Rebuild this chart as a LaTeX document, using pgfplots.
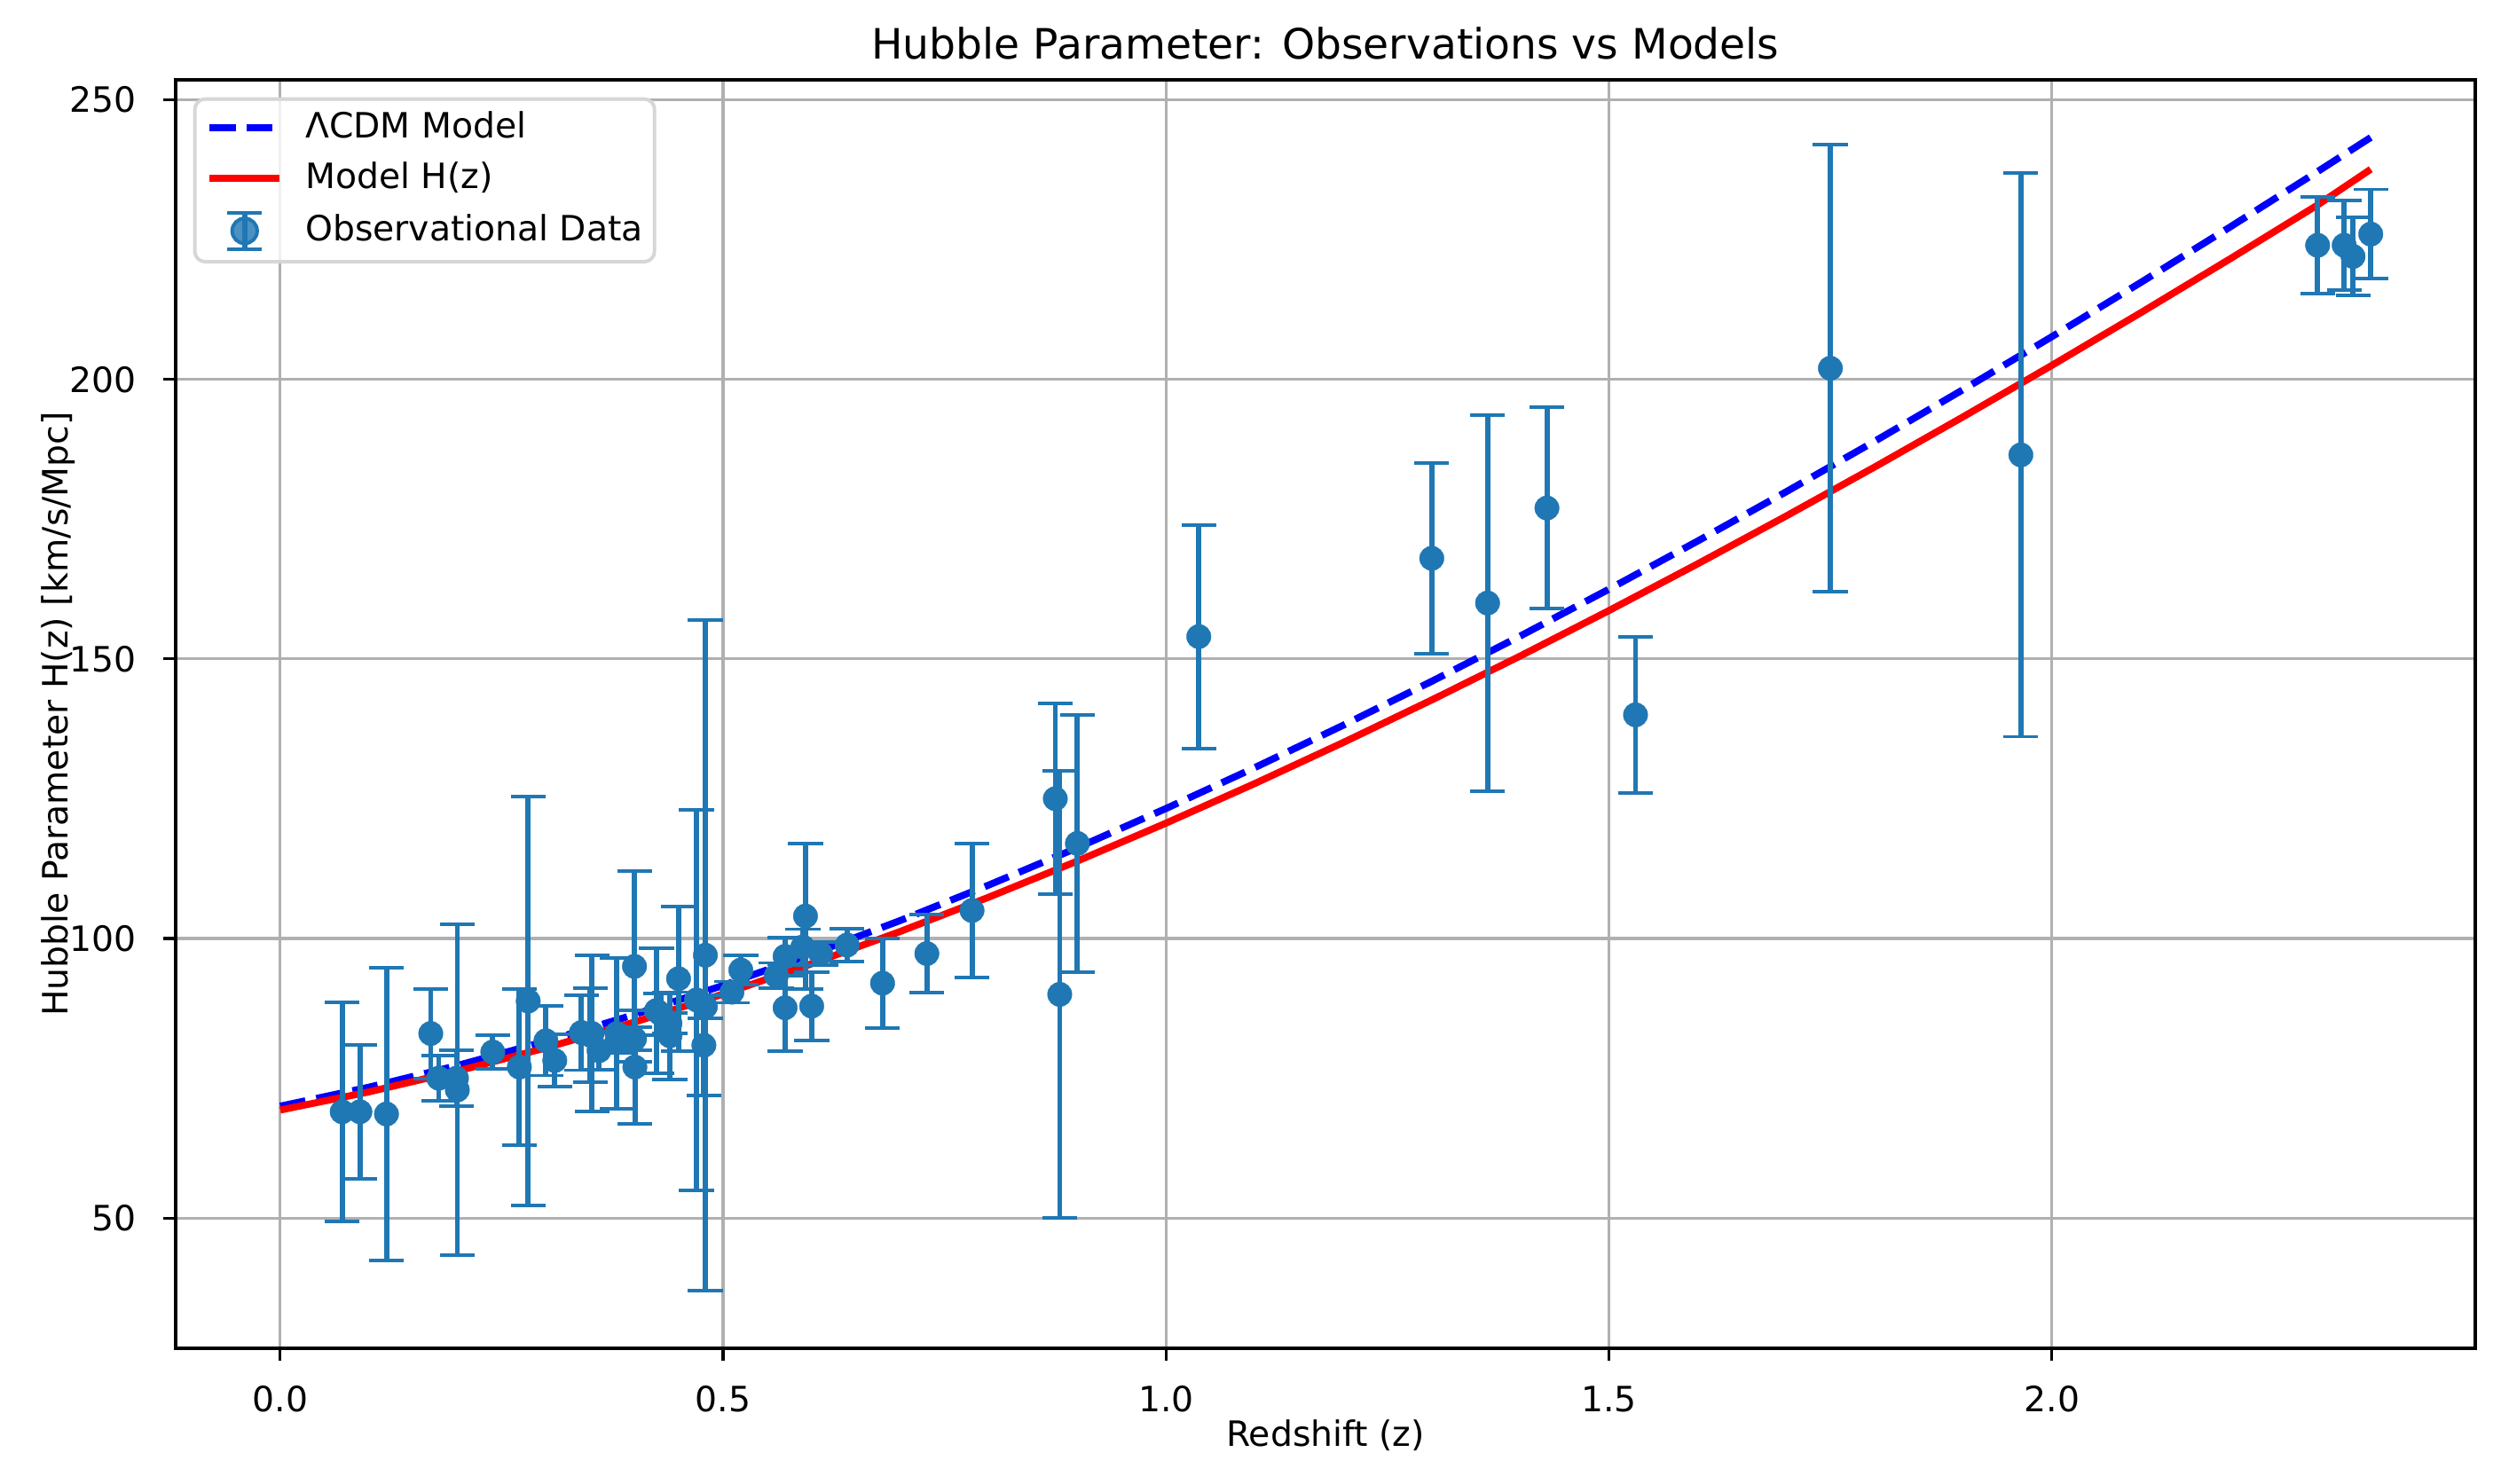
\documentclass[border=0pt]{standalone}
\usepackage{pgfplots}
\pgfplotsset{compat=1.18}
\usepackage{pgfplotstable}
\usepackage{fontspec}
\setmainfont{DejaVu Sans}
\definecolor{c0}{RGB}{31,119,180}
\definecolor{gridc}{RGB}{176,176,176}
\definecolor{legc}{RGB}{214,214,214}

\pgfplotstableread{
z H e
0.07 69 19.6
0.09 69 12
0.12 68.6 26.2
0.17 83 8
0.179 75 4
0.199 75 5
0.2 72.9 29.6
0.24 79.69 2.99
0.27 77 14
0.28 88.8 36.6
0.3 81.7 6.22
0.31 78.17 4.74
0.34 83.17 6.74
0.35 82.7 8.4
0.352 83 14
0.36 79.93 3.39
0.38 81.5 1.9
0.3802 83 13.5
0.4 95 17
0.4 82.04 2.03
0.4004 77 10.2
0.4247 87.1 11.2
0.43 86.45 3.68
0.44 82.6 7.8
0.44 84.81 1.83
0.4497 92.8 12.9
0.47 89 34
0.4783 80.9 9
0.48 97 60
0.48 87.79 2.03
0.51 90.4 1.9
0.52 94.35 2.64
0.56 93.34 2.3
0.57 87.6 7.8
0.57 96.8 3.4
0.59 98.48 3.18
0.593 104 13
0.6 87.9 6.1
0.61 97.3 2.1
0.64 98.82 2.99
0.68 92 8
0.73 97.3 7
0.781 105 12
0.875 125 17
0.88 90 40
0.9 117 23
1.037 154 20
1.3 168 17
1.363 160 33.6
1.43 177 18
1.53 140 14
1.75 202 40
1.965 186.5 50.4
2.3 224 8.6
2.33 224 8
2.34 222 7
2.36 226 8
}\obsdata

\pgfplotstableread{
z H
0.0 70.00
0.1 73.39
0.2 77.27
0.3 81.61
0.4 86.39
0.5 91.60
0.6 97.22
0.7 103.21
0.8 109.56
0.9 116.24
1.0 123.25
1.1 130.55
1.2 138.14
1.3 146.00
1.4 154.11
1.5 162.48
1.6 171.08
1.7 179.90
1.8 188.94
1.9 198.20
2.0 207.65
2.1 217.31
2.2 227.15
2.3 237.19
2.36 243.29
}\lcdm

\pgfplotstableread{
z H
0.0 69.30
0.1 72.55
0.2 76.27
0.3 80.43
0.4 85.04
0.5 90.05
0.6 95.47
0.7 101.25
0.8 107.39
0.9 113.85
1.0 120.63
1.1 127.70
1.2 135.05
1.3 142.67
1.4 150.54
1.5 158.65
1.6 167.00
1.7 175.56
1.8 184.34
1.9 193.33
2.0 202.52
2.1 211.90
2.2 221.46
2.3 231.21
2.36 237.60
}\model

\begin{document}
\begin{tikzpicture}
\begin{axis}[
  scale only axis,
  width=659.6pt, height=363.9pt,
  xmin=-0.118, xmax=2.478,
  ymin=26.69, ymax=253.60,
  xtick={0,0.5,1,1.5,2},
  xticklabels={0.0,0.5,1.0,1.5,2.0},
  ytick={50,100,150,200,250},
  /pgf/number format/assume math mode=true,
  tick pos=left,
  tick align=outside,
  major tick length=3.5pt,
  every tick/.style={black, line width=0.8pt},
  axis line style={black, line width=0.8pt},
  grid=major,
  major grid style={gridc, line width=0.8pt},
  font=\fontsize{10}{12}\selectfont,
  ticklabel style={font=\fontsize{10}{12}\selectfont},
  xticklabel style={anchor=base, inner sep=0pt, yshift=-14.75pt},
  yticklabel style={anchor=east, inner sep=0pt, xshift=-7.5pt},
  xlabel={Redshift (z)},
  ylabel={Hubble Parameter H(z) [km/s/Mpc]},
  xlabel style={at={(axis description cs:0.5,0)}, anchor=base, inner sep=0pt, yshift=-28.2pt},
  ylabel style={at={(axis description cs:-0.0470,0.5)}, anchor=base, inner sep=0pt},
  title={Hubble Parameter: Observations vs Models},
  title style={at={(axis description cs:0.5,1)}, anchor=base, inner sep=0pt, font=\fontsize{12}{14}\selectfont},
  legend style={at={(axis description cs:0,1)}, anchor=north west, xshift=5pt, yshift=-5pt,
    draw=legc, line width=1pt, fill=white, fill opacity=0.8, text opacity=1,
    rounded corners=3pt, inner xsep=3.3pt, inner ysep=2.9pt,
    row sep=3.9pt, column sep=6.4pt,
    font=\fontsize{10}{12}\selectfont,
    nodes={inner sep=0pt, text height=8.2pt, text depth=2.4pt},
    cells={anchor=west, inner sep=0pt, text height=8.2pt, text depth=2.4pt}},
]
\addlegendimage{legend image code/.code={\draw[blue, line width=2pt, dash pattern=on 7.4pt off 3.2pt] (0pt,0pt) -- (20pt,0pt);}}
\addlegendentry{ΛCDM Model}
\addlegendimage{legend image code/.code={\draw[red, line width=2pt] (0pt,0pt) -- (20pt,0pt);}}
\addlegendentry{Model H(z)}
\addlegendimage{legend image code/.code={
  \draw[c0, line width=1.5pt] (10pt,-5.2pt) -- (10pt,5.2pt);
  \draw[c0, line width=1pt] (5pt,-5.2pt) -- (15pt,-5.2pt);
  \draw[c0, line width=1pt] (5pt,5.2pt) -- (15pt,5.2pt);
  \fill[c0] (10pt,0pt) circle (3.6pt);}}
\addlegendentry{Observational Data}

\addplot[blue, line width=2pt, dash pattern=on 7.4pt off 3.2pt, forget plot] table[x=z, y=H] {\lcdm};
\addplot[red, line width=2pt, forget plot] table[x=z, y=H] {\model};
\addplot[c0, only marks, mark=*, mark size=3.5pt, mark options={solid, fill=c0, draw=c0, line width=0.1pt}, forget plot,
  error bars/.cd, y dir=both, y explicit,
  error bar style={c0, line width=1.5pt},
  error mark options={c0, line width=1pt, mark size=5pt, rotate=90}]
  table[x=z, y=H, y error=e] {\obsdata};
\end{axis}
\pgfresetboundingbox
\path[use as bounding box] ([shift={(-50.38pt,-38.68pt)}]current axis.south west) rectangle ([shift={(7.38pt,22.90pt)}]current axis.north east);
\end{tikzpicture}
\end{document}
